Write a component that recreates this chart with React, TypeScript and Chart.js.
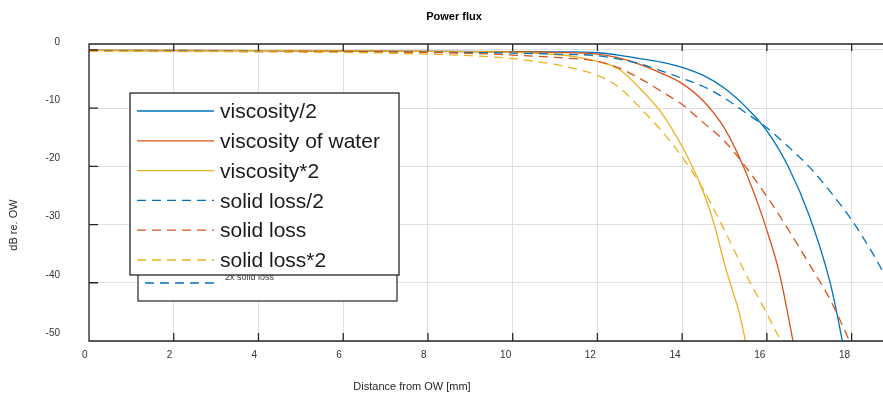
import React, { useEffect, useRef } from 'react';
import { Chart, registerables } from 'chart.js';

Chart.register(...registerables);

// ---------- data ----------
const chartTitle = 'Power flux';
const xAxisTitle = 'Distance from OW [mm]';
const yAxisTitle = 'dB re. OW';

const seriesLabels = ['viscosity/2', 'viscosity of water', 'viscosity*2', 'solid loss/2', 'solid loss', 'solid loss*2'];
const seriesColors = ['#0072BD', '#D95319', '#EDB120', '#0072BD', '#D95319', '#EDB120'];
const seriesDashed = [false, false, false, true, true, true];

const viscHalfX = [0, 4, 8, 10, 11, 12, 12.5, 13, 13.5, 14, 14.5, 15, 15.5, 16, 16.5, 17, 17.5, 17.85];
const viscHalfY = [-0.1, -0.15, -0.25, -0.3, -0.35, -0.5, -0.9, -1.5, -2.1, -3.0, -4.4, -6.6, -9.8, -13.9, -20.0, -28.5, -40.2, -52.5];

const viscWaterX = [0, 4, 8, 10, 11, 12, 12.5, 13, 13.5, 14, 14.5, 15, 15.5, 16, 16.3, 16.7];
const viscWaterY = [-0.1, -0.15, -0.25, -0.35, -0.45, -0.75, -1.4, -2.5, -4.0, -5.8, -8.8, -13.5, -21.0, -31.0, -38.5, -53.2];

const viscDoubleX = [0, 4, 8, 10, 11, 11.5, 12, 12.5, 13, 13.5, 14, 14.25, 14.5, 14.75, 15, 15.2, 15.35, 15.55];
const viscDoubleY = [-0.1, -0.15, -0.25, -0.45, -0.8, -1.2, -2.0, -3.3, -6.6, -10.7, -16.6, -20.2, -24.4, -29.8, -36.8, -41.6, -45.2, -52.0];

const lossHalfX = [0, 4, 8, 10, 11, 12, 12.5, 13, 13.5, 14, 14.5, 15, 15.5, 16, 16.5, 17, 17.5, 18, 18.5, 18.8];
const lossHalfY = [-0.15, -0.25, -0.4, -0.55, -0.75, -1.0, -1.6, -2.4, -3.6, -4.9, -6.3, -8.3, -10.8, -13.4, -16.6, -20.1, -24.4, -29.2, -35.0, -38.9];

const lossX = [0, 4, 8, 9, 10, 11, 12, 12.5, 13, 13.5, 14, 14.5, 15, 15.5, 16, 16.5, 17, 17.5, 18];
const lossY = [-0.2, -0.3, -0.45, -0.6, -0.9, -1.3, -2.0, -3.1, -4.9, -7.1, -9.4, -12.5, -15.7, -20.1, -25.2, -30.8, -36.8, -43.0, -50.8];

const lossDoubleX = [0, 2, 4, 6, 7, 8, 9, 10, 10.5, 11, 11.5, 12, 12.5, 13, 13.5, 14, 14.5, 15, 15.5, 16, 16.4];
const lossDoubleY = [-0.25, -0.3, -0.35, -0.45, -0.55, -0.75, -1.0, -1.5, -1.95, -2.5, -3.3, -4.4, -6.4, -9.9, -13.8, -18.4, -24.0, -31.0, -38.5, -45.3, -51.0];

const seriesX = [viscHalfX, viscWaterX, viscDoubleX, lossHalfX, lossX, lossDoubleX];
const seriesY = [viscHalfY, viscWaterY, viscDoubleY, lossHalfY, lossY, lossDoubleY];

// the partly hidden legend behind the main one
const backLegendLabels = ['2x solid loss'];
const backLegendColors = ['#0072BD'];

const xMin = 0;
const xMax = 18.74;
const xStep = 2;
const yMin = -50;
const yMax = 1;
const yStep = 10;

// ---------- styling ----------
const FONT = "'Liberation Sans', Arial, Helvetica, sans-serif";
const AXIS_COLOR = '#262626';
const DASH = [9, 6];

const decorPlugin = {
  id: 'decor',
  afterDatasetsDraw(chart: any) {
    const { ctx, chartArea, scales } = chart;
    const { left, right, top, bottom } = chartArea;
    const xs = scales.x;
    const ys = scales.y;
    ctx.save();
    ctx.strokeStyle = AXIS_COLOR;
    ctx.lineWidth = 1.3;
    ctx.setLineDash([]);
    ctx.beginPath();
    ctx.moveTo(right + 2, top);
    ctx.lineTo(left, top);
    ctx.lineTo(left, bottom);
    ctx.lineTo(right + 2, bottom);
    xs.ticks.forEach((t: any) => {
      const px = xs.getPixelForValue(t.value);
      ctx.moveTo(px, bottom);
      ctx.lineTo(px, bottom - 8);
      ctx.moveTo(px, top);
      ctx.lineTo(px, top + 7);
    });
    ys.ticks.forEach((t: any) => {
      const py = ys.getPixelForValue(t.value);
      ctx.moveTo(left, py);
      ctx.lineTo(left + 9, py);
    });
    ctx.stroke();
    ctx.restore();
  },
  afterDraw(chart: any) {
    const { ctx } = chart;
    ctx.save();

    // titles
    ctx.fillStyle = '#000000';
    ctx.font = `bold 11px ${FONT}`;
    ctx.textAlign = 'center';
    ctx.textBaseline = 'middle';
    ctx.fillText(chartTitle, 454, 16.5);

    ctx.fillStyle = AXIS_COLOR;
    ctx.font = `11px ${FONT}`;
    ctx.fillText(xAxisTitle, 412, 387);

    ctx.save();
    ctx.translate(13.5, 225);
    ctx.rotate(-Math.PI / 2);
    ctx.fillText(yAxisTitle, 0, 0);
    ctx.restore();

    // back legend (mostly hidden)
    const bx0 = 138, by0 = 240, bx1 = 397, by1 = 301;
    ctx.fillStyle = '#ffffff';
    ctx.fillRect(bx0, by0, bx1 - bx0, by1 - by0);
    ctx.strokeStyle = AXIS_COLOR;
    ctx.lineWidth = 1.2;
    ctx.setLineDash([]);
    ctx.strokeRect(bx0, by0, bx1 - bx0, by1 - by0);
    backLegendLabels.forEach((lab, i) => {
      const ly = 283 + i * 20;
      ctx.strokeStyle = backLegendColors[i];
      ctx.lineWidth = 1.3;
      ctx.setLineDash(DASH);
      ctx.beginPath();
      ctx.moveTo(145, ly);
      ctx.lineTo(219, ly);
      ctx.stroke();
      ctx.setLineDash([]);
      ctx.fillStyle = '#404040';
      ctx.font = `9px ${FONT}`;
      ctx.textAlign = 'left';
      ctx.textBaseline = 'middle';
      ctx.fillText(lab, 225, ly - 5);
    });

    // main legend
    const fx0 = 130, fy0 = 93, fx1 = 399, fy1 = 275;
    ctx.fillStyle = '#ffffff';
    ctx.fillRect(fx0, fy0, fx1 - fx0, fy1 - fy0);
    ctx.strokeStyle = AXIS_COLOR;
    ctx.lineWidth = 1.3;
    ctx.setLineDash([]);
    ctx.strokeRect(fx0, fy0, fx1 - fx0, fy1 - fy0);
    chart.data.datasets.forEach((ds: any, i: number) => {
      const ly = 111 + i * 29.8;
      ctx.strokeStyle = ds.borderColor;
      ctx.lineWidth = 1.3;
      ctx.setLineDash(ds.borderDash || []);
      ctx.beginPath();
      ctx.moveTo(137, ly);
      ctx.lineTo(214, ly);
      ctx.stroke();
      ctx.setLineDash([]);
      ctx.fillStyle = '#1a1a1a';
      ctx.font = `21px ${FONT}`;
      ctx.textAlign = 'left';
      ctx.textBaseline = 'middle';
      ctx.fillText(ds.label, 220, ly + 1.5);
    });

    ctx.restore();
  },
};

export default function App() {
  const canvasRef = useRef<HTMLCanvasElement>(null);

  useEffect(() => {
    if (!canvasRef.current) return;
    Chart.defaults.font.family = FONT;

    const datasets = seriesLabels.map((label, i) => ({
      label,
      data: seriesX[i].map((x, j) => ({ x, y: seriesY[i][j] })),
      borderColor: seriesColors[i],
      backgroundColor: seriesColors[i],
      borderWidth: 1.3,
      borderDash: seriesDashed[i] ? DASH : [],
      pointRadius: 0,
      pointHoverRadius: 0,
      fill: false,
      cubicInterpolationMode: 'monotone' as const,
      order: seriesLabels.length - i,
    }));

    const chart = new Chart(canvasRef.current, {
      type: 'line',
      data: { datasets },
      options: {
        animation: false,
        responsive: true,
        maintainAspectRatio: false,
        layout: { padding: { top: 44, left: 0, right: 0, bottom: 0 } },
        plugins: {
          legend: { display: false },
          title: { display: false },
          tooltip: { enabled: false },
        },
        scales: {
          x: {
            type: 'linear',
            min: xMin,
            max: xMax,
            border: { display: false },
            grid: { color: '#e0e0e0', lineWidth: 1, drawTicks: false },
            ticks: {
              stepSize: xStep,
              includeBounds: false,
              align: 'end',
              labelOffset: -1.5,
              padding: 8.5,
              color: '#333333',
              font: { size: 10, family: FONT },
              maxRotation: 0,
              autoSkip: false,
            },
            afterFit: (scale: any) => {
              scale.height = 57;
            },
          },
          y: {
            type: 'linear',
            min: yMin,
            max: yMax,
            border: { display: false },
            grid: { color: '#e0e0e0', lineWidth: 1, drawTicks: false },
            ticks: {
              stepSize: yStep,
              includeBounds: false,
              labelOffset: -8,
              padding: 29,
              color: '#333333',
              font: { size: 10, family: FONT },
            },
            afterFit: (scale: any) => {
              scale.width = 89;
            },
          },
        },
      },
      plugins: [decorPlugin],
    });

    return () => chart.destroy();
  }, []);

  return (
    <div style={{ position: 'fixed', left: 0, top: 0, width: 883, height: 398, background: '#ffffff' }}>
      <canvas ref={canvasRef} />
    </div>
  );
}
